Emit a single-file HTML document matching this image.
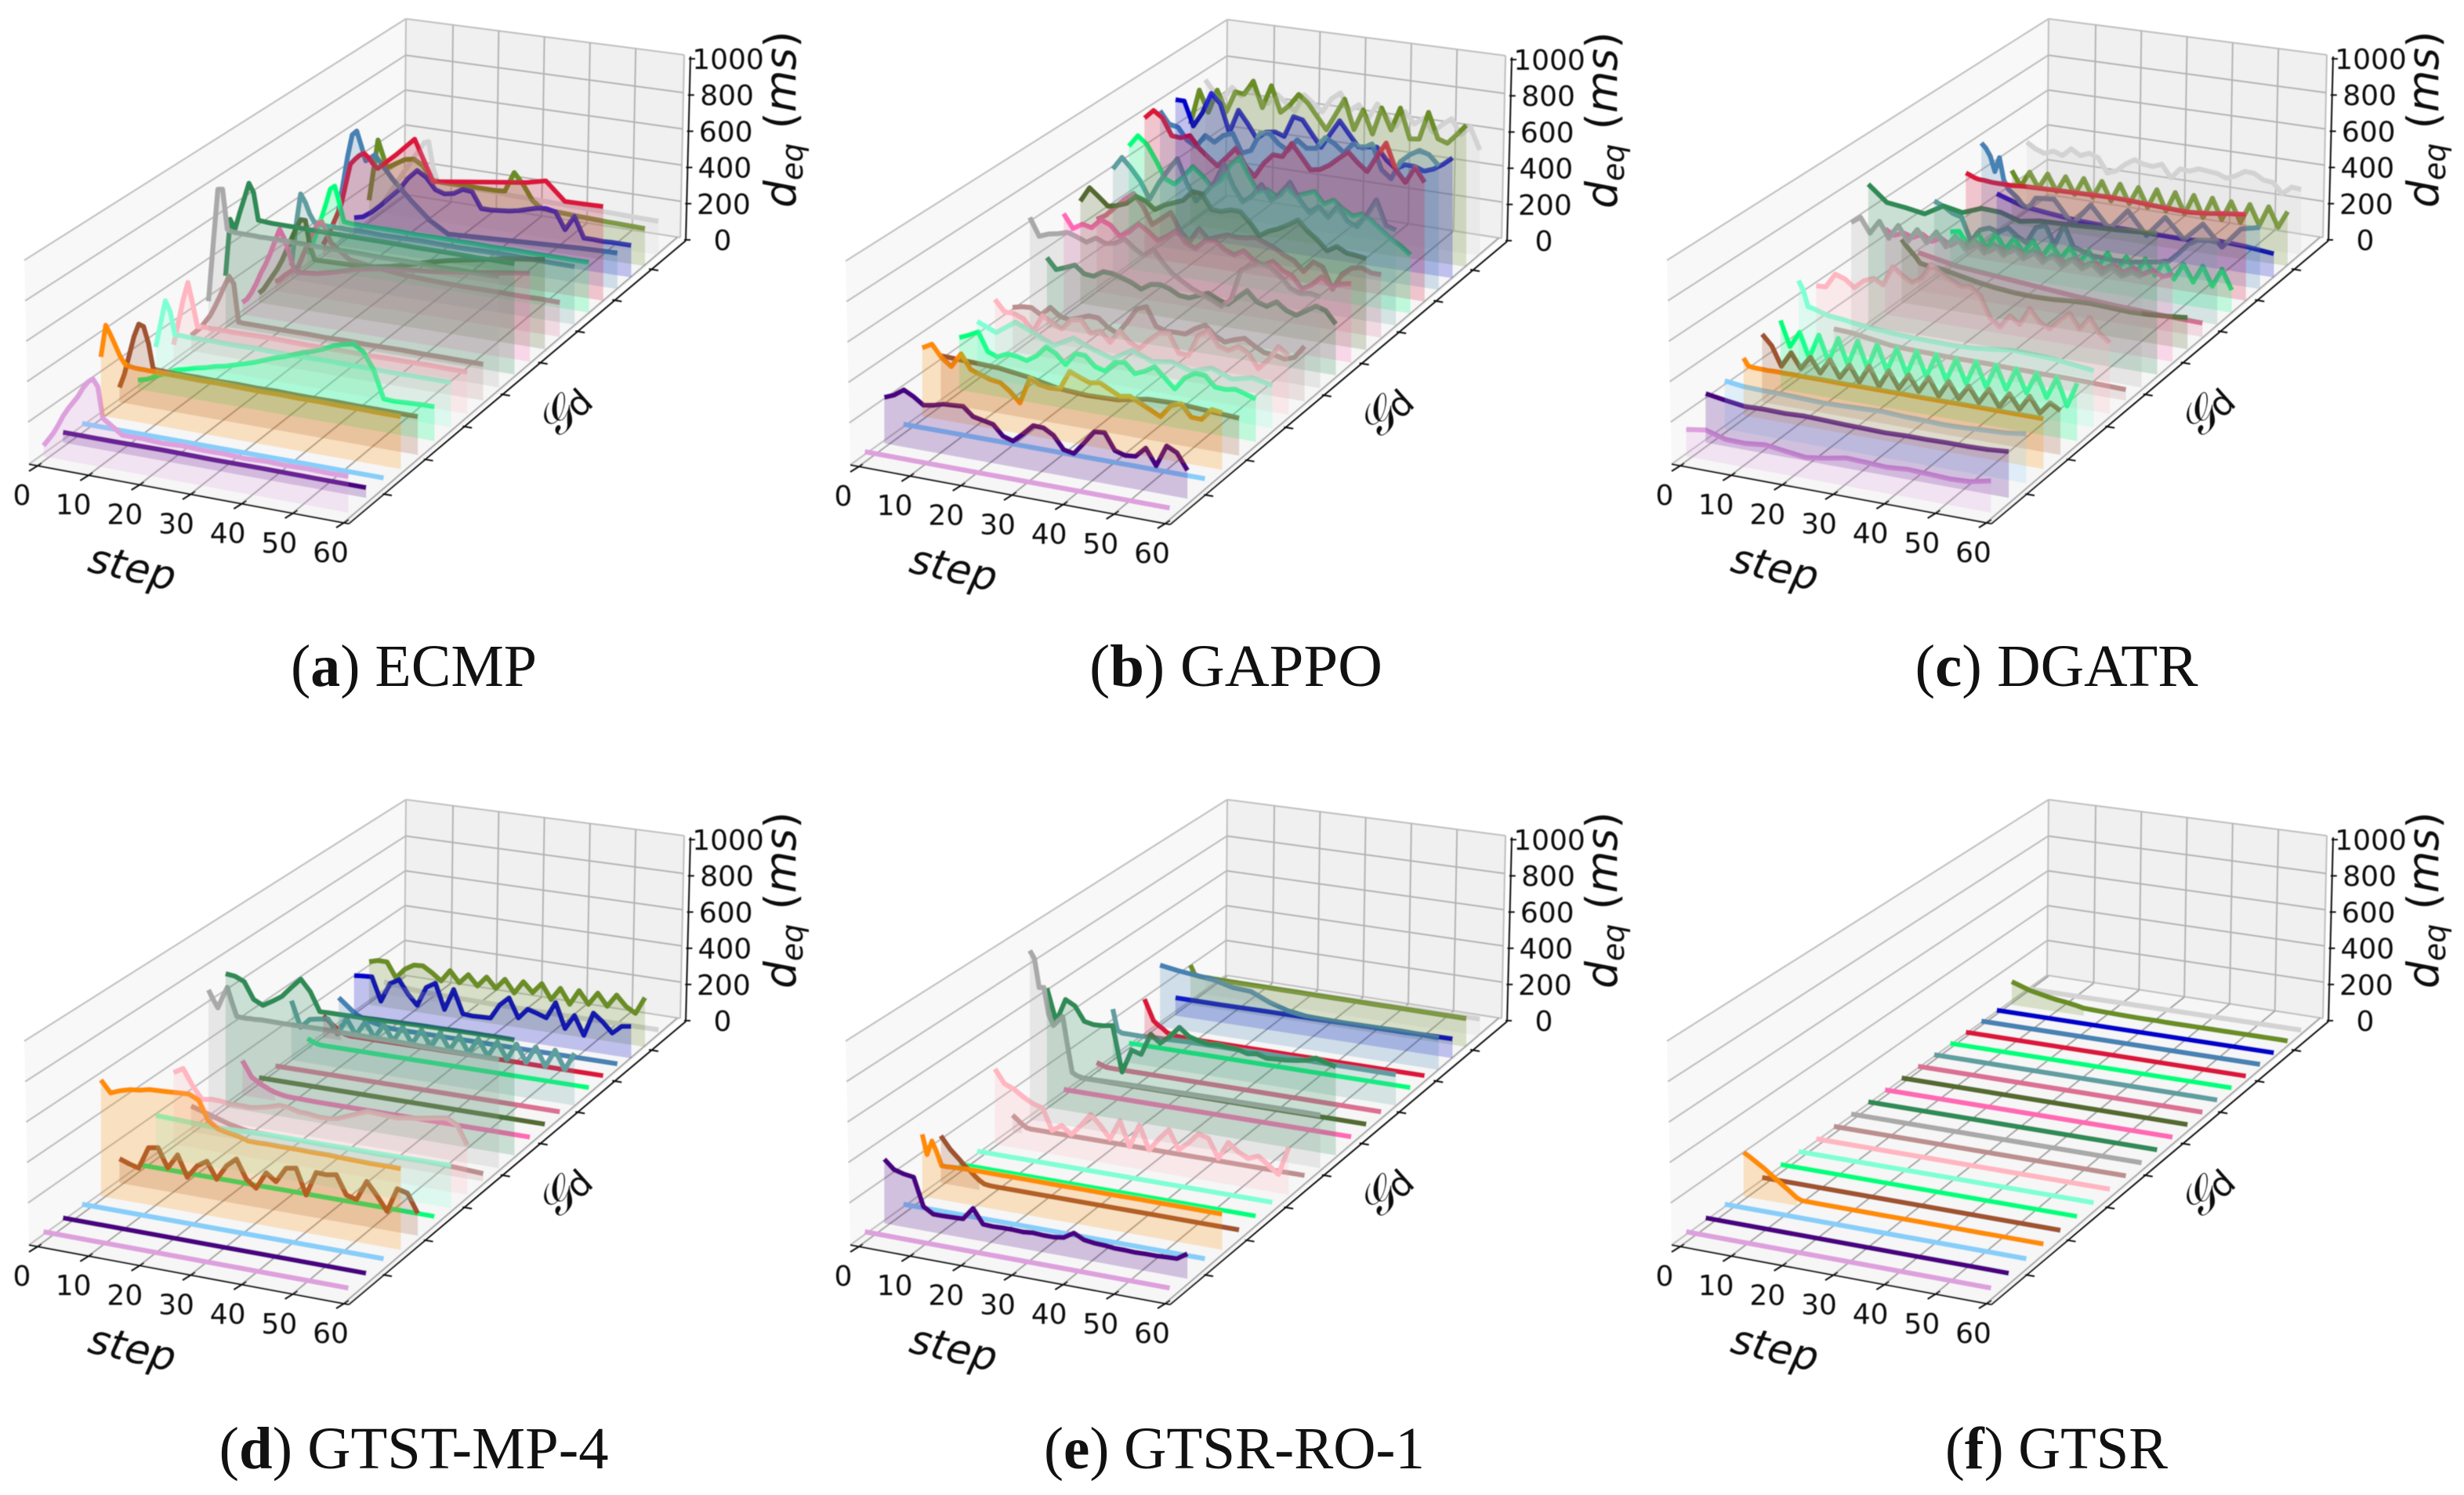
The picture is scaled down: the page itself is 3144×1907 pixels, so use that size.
<!DOCTYPE html>
<html lang="en">
<head>
<meta charset="utf-8">
<title>End-to-end delay per demand matrix for six routing methods</title>
<style>
html,body{margin:0;padding:0;background:#fff}
svg{display:block}
.cap{font-family:"Liberation Serif",serif;font-size:76px;fill:#111;text-anchor:middle}
.cap tspan{font-weight:bold}
</style>
</head>
<body>
<svg id="figure" xmlns="http://www.w3.org/2000/svg" width="3144" height="1907" viewBox="0 0 3144 1907">
<defs><filter id="soft" x="-2%" y="-2%" width="104%" height="104%"><feGaussianBlur stdDeviation="0.6"/></filter></defs>
<rect width="3144" height="1907" fill="#fff"/>
<g id="panels"></g>
<text class="cap" x="528" y="875" textLength="314" lengthAdjust="spacingAndGlyphs">(<tspan>a</tspan>) ECMP</text>
<text class="cap" x="1577" y="875" textLength="374" lengthAdjust="spacingAndGlyphs">(<tspan>b</tspan>) GAPPO</text>
<text class="cap" x="2624" y="875" textLength="361" lengthAdjust="spacingAndGlyphs">(<tspan>c</tspan>) DGATR</text>
<text class="cap" x="528" y="1873" textLength="497" lengthAdjust="spacingAndGlyphs">(<tspan>d</tspan>) GTST-MP-4</text>
<text class="cap" x="1575" y="1873" textLength="486" lengthAdjust="spacingAndGlyphs">(<tspan>e</tspan>) GTSR-RO-1</text>
<text class="cap" x="2624" y="1873" textLength="284" lengthAdjust="spacingAndGlyphs">(<tspan>f</tspan>) GTSR</text>
</svg>
<script>
// ---------- axis labels ----------
const stepTicks = [0,10,20,30,40,50,60];
const delayTicks = [0,200,400,600,800,1000];
const spikeSteps = [0,1,2,3,4,5,6,7,8,9,10,11,12,16,20,24,28,32,36,40,44,48,52,56,60];
const panelKeys = ['ecmp','gappo','dgatr','gtst-mp-4','gtsr-ro-1','gtsr'];
const demandColors = ['#dda0dd','#4b0082','#87cefa','#ff8c00','#a0522d','#00ff7f','#7fffd4','#ffb6c1','#bc8f8f','#a9a9a9','#2e8b57','#ff69b4','#556b2f','#db7093','#5f9ea0','#00ff7f','#dc143c','#4682b4','#0000cd','#6b8e23','#d3d3d3'];

// ---------- delay series (ms), one list per demand matrix, front to back ----------
// 25 values follow spikeSteps; any other length is evenly spaced across steps 0-60.
const ecmpDelays = [
[10,45,80,125,175,215,250,285,330,365,385,350,200,133,135,130,136,132,134,130,135,133,136,134,136],
[8,8,10,8,9,8,8],
[0,0],
[250,414,370,320,270,235,228,225,224,225,224,225,224,224,222,224,222,220,222,220,222,220,221,220,220],
[30,100,200,300,368,360,280,155,152,153,150,152,150,152,150,152,150,152,150,150,151,150,150,150,150],
[2,15,40,65,88,100,115,125,140,150,165,180,195,215,235,250,270,290,305,325,350,365,378,345,265,125,122,125,128,130,130],
[105,230,350,300,185,186,185,184,185,185,184,185,185,184,186,185,184,185,186,185,185,184,185,185,185],
[52,170,290,385,280,168,168,170,168,170,168,170,168,170,172,170,168,170,170,168,170,170,172,170,170],
[36,60,85,120,155,205,260,320,375,340,147,145,145,145,144,145,143,145,143,144,145,143,144,143,143],
[150,450,740,745,540,532,530,530,530,530,530,528,530,530,530,528,530,530,528,530,530,528,530,530,530],
[220,520,470,560,640,725,680,540,538,536,535,535,535,535,534,535,534,535,535,534,535,535,534,535,535],
[19,40,80,130,190,240,300,370,435,390,320,240,225,235,260,290,310,325,335,345,360,375,390,405,420],
[5,30,70,110,150,200,260,320,380,430,430,300,230,232,235,240,260,285,315,340,360,380,400,415,430],
[3,20,45,65,85,105,170,230,290,340,365,320,260,185,170,160,150,145,142,140,140,140,138,140,138],
[30,250,420,380,320,280,275,272,270,272,270,272,270,272,268,270,272,270,268,270,272,270,268,266,265],
[30,80,150,230,310,400,420,330,235,232,230,232,230,230,230,228,230,228,228,226,228,226,226,225,225],
[20,70,130,190,255,370,480,510,535,550,530,500,480,570,670,455,470,485,500,515,530,555,460,462,465],
[150,300,450,570,595,520,440,460,480,450,420,390,360,260,170,110,115,120,125,130,135,140,145,148,150],
[48,60,95,140,190,240,310,360,330,270,255,265,295,290,205,205,210,215,225,240,255,260,250,160,240,130,130,128,130,130,130],
[85,425,280,310,340,350,320,250,245,245,245,245,245,245,245,250,360,300,220,185,180,178,175,172,170,168,166,165,163,162,160],
[20,60,100,140,180,220,260,300,340,380,390,250,175,170,165,165,160,158,155,152,150,148,145,142,140]
];
const gappoDelays = [
[0,0],
[185,205,240,215,182,190,205,208,212,170,160,150,100,85,130,180,178,150,88,78,140,205,210,130,115,120,170,92,200,175,97],
[0,0],
[300,327,268,232,305,234,218,202,195,159,111,245,220,213,216,314,293,275,284,259,234,243,218,193,168,232,252,193,191,250,243],
[195,190,185,165,135,125,130,160,165,155,146],
[222,243,268,176,158,182,178,165,197,252,227,179,245,243,195,182,234,243,195,216,248,200,152,218,250,248,198,195,205,190,173],
[240,200,270,230,185,240,200,170,230,190,205,175,210,170,195,175],
[290,235,233,215,157,247,221,196,251,260,198,219,170,237,189,163,216,260,269,175,172,285,317,246,232,262,237,165,220,296,260],
[185,197,201,172,218,181,172,188,208,206,167,142,208,286,306,213,197,199,199,236,263,217,192,213,229,197,172,169,156,174,240],
[590,500,520,530,545,530,510,540,520,530,560,520,490,530,470,420,390,360,340,320,295,340,500,530,550,540,500,448,430,440,430],
[320,265,284,305,267,263,295,293,279,263,237,270,277,263,237,233,253,274,249,233,277,321,270,256,288,251,235,267,300,284,223],
[490,420,450,440,490,470,420,450,500,470,430,460,500,440,420,470,480,440,420,450,410,390,420,380,360,300,330,380,340,360,370],
[495,575,535,493,505,525,570,554,516,547,568,589,643,640,565,563,579,579,530,467,500,521,551,584,533,495,446,477,451,446,439],
[340,370,420,470,510,450,360,400,440,350,300,380,330,350,370,365,370,380,360,340,310,290,240,300,280,170,260,300,310,290,290],
[550,620,570,510,420,515,590,660,540,450,500,565,670,560,485,525,595,520,555,630,545,485,525,475,545,470,450,520,610,480,465],
[615,680,640,560,470,450,500,560,520,470,510,600,650,560,480,500,470,530,490,510,530,470,500,460,430,450,420,380,340,310,270],
[710,760,726,638,635,655,593,552,514,569,626,538,488,567,621,619,698,636,571,581,612,657,700,650,610,700,781,645,583,674,600],
[695,630,620,557,530,598,569,614,633,533,555,657,664,614,586,652,614,621,688,662,621,679,662,693,560,519,621,667,698,683,631],
[700,700,570,650,765,715,565,695,630,555,598,607,590,706,696,627,561,643,723,658,595,602,610,547,506,537,535,518,537,571,614],
[510,705,590,720,608,725,720,800,661,790,651,697,765,724,659,593,685,777,617,734,608,760,646,775,613,620,775,637,620,676,736],
[700,640,610,680,640,700,650,620,680,640,600,700,660,620,700,740,650,690,620,710,650,600,690,630,670,600,650,690,610,660,540]
];
const dgatrDelays = [
[90,105,77,75,86,73,61,75,95,91,86,95,91,86,91,114],
[200,185,172,175,173,178,175,172,170,168,172,172,175,175,178,187],
[197,185,182,182,178,175,178,182,186,180,178,175,178,185,190,204],
[245,209,206,205,205,204,205,206,205,205,206,205,205,206,205,206,206,207,206,207,208,208,208,209,209],
[300,250,155,232,161,227,155,232,150,222,145,234,141,229,148,225,150,230,145,228,150,222,148,225,145,220,150,225,150,210,180],
[306,180,262,140,265,140,265,140,270,140,270,145,268,145,270,150,270,150,265,150,270,150,270,155,270,155,265,150,260,125,250],
[445,400,320,315,308,300,294,290,288,286,283,278,275,265,258,253,252,250,255,265,278,275,270,258,246],
[355,358,432,416,379,423,444,418,520,484,456,488,567,530,505,479,486,449,342,305,372,335,426,365,340,393,437,365,433,358,321],
[70,65,50,35,30,28,25,25,25,22,22,20,20,18,15,12],
[560,595,520,590,510,585,510,580,520,585,515,580,520,575,515,570,520,575,520,570,520,565,515,560,520,555,510,550,515,545,530],
[700,620,609,593,651,633,672,667,637,656,660,665,672,677,684,693],
[405,380,400,385,410,380,405,375,410,380,410,375,410,385,415,380,415,385,410,385,415,385,410,385,415,385,415,390,420,395,415],
[290,260,235,210,180,175,172,170,168,165,160,155,150,130,115,105,100,102,110,113,108,102,105,112,122],
[160,120,100,80,60,45,35,28],
[375,355,325,312,191,259,277,263,294,256,230,319,340,242,357,247,233,216,214,210,212,216,223,233,240,253,302,358,391,398,395],
[150,160,90,170,90,180,100,170,100,175,95,170,100,170,95,165,90,170,90,165,85,170,90,175,85,175,85,180,80,180,75],
[410,400,390,385,385,382,380,380,380,380,380,382,385,388,392,395,398,400,398,392,388,385,395,410,422],
[515,490,450,370,450,330,285,265,245,215,200,220,260,270,150,270,155,270,150,265,160,260,150,265,290],
[180,132,115,100,95,92,90,88,108,100,84],
[250,170,255,175,260,170,260,170,265,170,265,165,265,165,262,160,265,155,265,155,265,150,265,155,262,155,262,155,265,160,255],
[350,320,302,322,305,350,320,340,322,245,265,310,342,325,320,340,272,330,325,345,340,335,317,337,370,367,337,332,277,322,317]
];
const gtstDelays = [
[0,0],
[0,0],
[0,0],
[557,500,520,534,540,552,555,558,562,565,543,448,415,405,398,382,382,384,383,384,384,383,383,384,382,381,380,379,380,381,380],
[95,78,65,176,185,91,166,62,128,160,78,155,198,105,68,155,119,196,205,78,201,199,208,114,100,201,139,68,191,178,84],
[0,0],
[185,180,175,180,185,185,185,185,187,188,190],
[340,370,290,228,237,235,228,230,228,237,249,265,262,249,247,240,240,249,270,290,311,309,306,304,313,320,330,339,348,320,226],
[105,76,45,25,24,23,23,22,23,22,22,23,24,23,18,12],
[645,600,560,620,675,600,532,530,530,532,532,535,535,535,538,540,540,540,540,540,538,538,538,536,536],
[670,665,645,560,537,567,600,655,707,650,553,555,556,557,558,560,562,563,565,566,568,569,570,571,572,573,574,574,575,575,575],
[154,115,75,60,45,35,23,15,10,5,3,2,2,0,0,0,0,0,0,0,0,0,0,0,0],
[2,2],
[2,2],
[290,155,205,215,222,150,240,160,240,160,240,160,245,160,245,160,245,160,245,160,245,160,245,160,250,160,250,155,250,155,250],
[27,15,6,2,2,2,2,2,2,2,2,2,2,2,2,2,2,2,2,2,2,2,2,2,2],
[90,70,50,30,15,6,2,2,2,2,2,2,2,2,2,2,2,2,2,2,2,2,2,2,2],
[128,108,88,68,50,40,32,25,19,14,10,6,3,3,3,3,3,3,3,3,3,3,3,3,3],
[190,195,198,72,176,205,133,80,186,217,80,198,72,68,70,72,152,198,96,152,137,120,212,77,157,55,186,145,92,137,145],
[208,222,222,142,197,227,230,200,162,227,167,220,165,222,167,225,157,227,175,232,152,222,142,225,157,227,162,232,177,147,242],
[38,35,30,28,25,22,20,18,16,15,14,13,12,10,8,6,5,4,3,3,2,2,2,2,2]
];
const gtsrRoDelays = [
[0,0],
[292,249,236,229,92,63,63,65,67,128,58,56,58,58,56,61,58,58,65,97,72,65,63,58,58,56,58,58,61,63,97],
[0,0],
[284,186,259,207,143,143,145,146,147,148,148,149,149,149,150,150,150,151,151,151,152,152,152,152,152],
[211,180,150,127,105,80,62,40,20,6,3,2,2,2,2,2,2,2,2,2,2,2,2,2,2],
[2,2],
[2,2],
[360,292,272,240,214,200,94,127,90,145,210,161,101,203,78,198,78,145,200,106,150,205,191,97,187,147,122,143,106,67,214],
[58,40,20,5,2,2,2,2,2,2,2,2,2,2,2,2,2,2,2,2,2,2,2,2,2],
[850,810,665,670,535,480,507,535,388,253,240,235,232,236,238,240,240,242,243,245,245,246,247,248,248],
[595,428,551,526,453,444,447,456,221,344,330,444,405,449,505,465,451,442,447,442,440,426,433,419,423,426,433,442,463,447,433],
[2,2],
[2,2],
[20,12,3,2,2,2,2,2,2,2,2,2,2,2,2,2,2,2,2,2,2,2,2,2,2],
[245,135,124,124,124,124,124,125,126,127,128,128,129,133,133,134,134,135,134,135,135,135,135,135,135],
[2,2],
[180,125,70,50,35,17,10,6,4,3,3,2,2,2,2,2,2,2,2,2,2,2,2,2,2],
[305,290,280,270,245,238,195,165,150,148,146,147,148,150,148,144],
[68,68,70,70,72,73,76],
[190,140,135,134,134,133,133,132,132,131,131,130,130,130,129,129,128,128,128,127,127,127,126,126,126],
[62,62]
];
const gtsrDelays = [
[0,0],[0,0],[0,0],
[193,180,165,150,135,118,100,82,65,48,30,12,3,2,2,2,2,2,2,2,2,2,2,2,2],
[0,0],[0,0],[0,0],[0,0],[0,0],[0,0],[0,0],[0,0],[0,0],[0,0],[0,0],[0,0],[0,0],[0,0],[0,0],
[98,82,65,55,45,36,30,22,12,10,8,7,6,5,4,4,4,3,3,3,3,3,3,3,3,3,3,3,3,3,2],
[0,0]
];
const panelDelays = [ecmpDelays,gappoDelays,dgatrDelays,gtstDelays,gtsrRoDelays,gtsrDelays];
// zero-level calibration of the readings taken from the upper row
const readingOffsetMs = [16,16,16,0,0,0];

// ---------- layout ----------
const originX = [0,1048,2096,0,1048,2096];
const originY = [0,1,0,996,996,996];
const ZX = 1.496, ZY = 1.742;
const NS = 'http://www.w3.org/2000/svg';

// floor plane: step 0-60, demand 0-20, homography from four corners
const q = [[83,995],[665,1120],[1257,547],[733,455]];
const h = (function(){
  const dx1=q[1][0]-q[2][0], dx2=q[3][0]-q[2][0], sx=q[0][0]-q[1][0]+q[2][0]-q[3][0];
  const dy1=q[1][1]-q[2][1], dy2=q[3][1]-q[2][1], sy=q[0][1]-q[1][1]+q[2][1]-q[3][1];
  const den=dx1*dy2-dx2*dy1;
  const g=(sx*dy2-dx2*sy)/den, k=(dx1*sy-sx*dy1)/den;
  return {a:q[1][0]-q[0][0]+g*q[1][0], b:q[3][0]-q[0][0]+k*q[3][0], c:q[0][0],
          d:q[1][1]-q[0][1]+g*q[1][1], e:q[3][1]-q[0][1]+k*q[3][1], f:q[0][1], g:g, k:k};
})();
function floorPoint(step, demand){
  const u=step/60, v=demand/20, w=h.g*u+h.k*v+1;
  return [(h.a*u+h.b*v+h.c)/w/ZX, ((h.d*u+h.e*v+h.f)/w+7)/ZY];
}
function delayPx(demand){ return (0.45-0.05*demand/20)/ZY; }
function plot(step, demand, ms){
  const p=floorPoint(step,demand);
  return [p[0], p[1]-ms*delayPx(demand)];
}
function stepsFor(values){
  if(values.length===spikeSteps.length) return spikeSteps;
  return values.map(function(_,i){ return i*60/(values.length-1); });
}
function lerp(a,b,t){ return a+(b-a)*t; }
function pts(list){ return list.map(function(p){ return p[0].toFixed(1)+','+p[1].toFixed(1); }).join(' '); }
function make(tag, attrs, parent){
  const el=document.createElementNS(NS,tag);
  for(const key in attrs){ el.setAttribute(key, attrs[key]); }
  parent.appendChild(el);
  return el;
}
const GRID='#b4b4b4';
const root=document.getElementById('panels');

panelDelays.forEach(function(delays, pi){
  const panel=make('g',{transform:'translate('+originX[pi]+','+originY[pi]+')',filter:'url(#soft)'},root);
  
  

  // panes
  const leftPane=make('polygon',{points:'31,332 518,24 516,248 37,592',fill:'#f8f8f8'},panel);
  
  
  const backPane=make('polygon',{points:'518,24 873,70 868,303 516,248',fill:'#f0f0f0'},panel);
  
  
  const floorPane=make('polygon',{points:'37,592 445,668 868,303 516,248',fill:'#f6f6f6'},panel);
  
  

  // grid
  const grid=make('g',{stroke:GRID,'stroke-width':2.1,fill:'none'},panel);
  
  
  [[31,332,518,24],[518,24,873,70],[518,24,516,248],[873,70,868,303],[516,248,37,592],[516,248,868,303],[37,592,445,668]].forEach(function(e){
    make('line',{x1:e[0],y1:e[1],x2:e[2],y2:e[3],stroke:'#c0c0c0'},grid);
  });
  delayTicks.forEach(function(tick){
    const t=tick/1000;
    if(t===0||t===1) return;
    const yb=lerp(248,24+2,t), yr=lerp(303,72,t), yf=lerp(590,332,t);
    make('line',{x1:lerp(516,518,t),y1:yb,x2:lerp(868,873,t),y2:yr},grid);
    make('line',{x1:lerp(37,31,t),y1:yf,x2:lerp(516,518,t),y2:yb,stroke:'#bcbcbc'},grid);
  });
  stepTicks.forEach(function(tick){
    const t=tick/60*0.985+0.005;
    const bx=lerp(516,868,t), by=lerp(249,303,t), tx=lerp(518,873,t), ty=lerp(24,70,t);
    if(tick>0&&tick<60) make('line',{x1:bx,y1:by,x2:tx,y2:ty},grid);
    const fx=lerp(45,437,tick/60), fy=lerp(596,668,tick/60);
    make('line',{x1:fx,y1:fy,x2:bx,y2:by,stroke:'#a6a6a6'},grid);
  });

  // series: all lines first (back to front), then all translucent areas over them
  const lineLayer=make('g',{},panel);
  
  
  const areaLayer=make('g',{},panel);
  
  
  for(let g=delays.length-1; g>=0; g--){
    const values=delays[g], steps=stepsFor(values), off=readingOffsetMs[pi];
    const shown=values.map(function(v){ return v>0 ? v+off : v; });
    const line=steps.map(function(s,i){ return plot(s,g,shown[i]); });
    let run=[];
    const flush=function(){
      if(run.length>1){
        const top=run.map(function(i){ return line[i]; });
        const bottom=run.slice().reverse().map(function(i){ const p=floorPoint(steps[i],g); return [p[0],p[1]+7]; });
        const area=make('polygon',{points:pts(top.concat(bottom)),fill:demandColors[g],'fill-opacity':0.22,stroke:'none'},areaLayer);
        
        
      }
      run=[];
    };
    shown.forEach(function(v,i){ if(v>10){ run.push(i); } else { flush(); } });
    flush();
    const path=make('polyline',{points:pts(line),fill:'none',stroke:demandColors[g],'stroke-width':6.4,'stroke-linejoin':'round','stroke-linecap':'butt'},lineLayer);
    
    
  }

  // axes
  const axes=make('g',{stroke:'#111','stroke-width':2,fill:'none'},panel);
  
  
  make('line',{x1:37,y1:592,x2:445,y2:668},axes);
  make('line',{x1:445,y1:668,x2:875,y2:307},axes);
  make('line',{x1:875,y1:307,x2:881,y2:72},axes);
  stepTicks.forEach(function(tick){
    const x=lerp(45,437,tick/60), y=lerp(596,668,tick/60);
    make('line',{x1:x-8,y1:y+5,x2:x+8,y2:y-5},axes);
  });
  for(let i=0;i<8;i++){
    const t=Math.pow(i/7,0.96), x=lerp(493,833,t), y=lerp(631,344,t);
    make('line',{x1:x-5,y1:y-1,x2:x+7,y2:y+1},axes);
  }
  const tickText={'font-family':'"DejaVu Sans",sans-serif','font-size':36,fill:'#111','text-anchor':'middle'};
  delayTicks.forEach(function(tick){
    const t=tick/1000, x=lerp(875,881,t), y=lerp(306,75,t);
    make('line',{x1:x-2,y1:y,x2:x+6,y2:y},axes);
    const label=make('text',Object.assign({x:lerp(922,929,t),y:y+13},tickText),panel);
    label.textContent=String(tick);
    
    
  });
  stepTicks.forEach(function(tick){
    const t=tick/60;
    const label=make('text',Object.assign({x:lerp(28,422,t),y:lerp(631,704,t)+13},tickText),panel);
    label.textContent=String(tick);
    
    
  });

  // axis titles
  const stepTitle=make('text',{transform:'translate(165,741) rotate(13)','font-family':'"DejaVu Sans",sans-serif','font-style':'italic','font-size':52,fill:'#111','text-anchor':'middle'},panel);
  stepTitle.textContent='step';
  
  

  const delayTitle=make('text',{transform:'translate(1015,265) rotate(-90)','font-family':'"DejaVu Sans",sans-serif','font-size':55,fill:'#111'},panel);
  
  
  const d=make('tspan',{'font-style':'italic'},delayTitle); d.textContent='d';
  const sub=make('tspan',{'font-style':'italic','font-size':38,dy:9},delayTitle); sub.textContent='eq';
  const unitOpen=make('tspan',{dy:-9,dx:18},delayTitle); unitOpen.textContent='(';
  const unit=make('tspan',{'font-style':'italic'},delayTitle); unit.textContent='ms';
  const unitClose=make('tspan',{},delayTitle); unitClose.textContent=')';

  const demandTitle=make('text',{transform:'translate(733,540) rotate(-42)','font-family':'"DejaVu Sans","DejaVu Math TeX Gyre","Liberation Serif",serif','font-size':52,fill:'#111','text-anchor':'middle'},panel);
  
  
  const script=make('tspan',{'font-family':'"Liberation Serif",serif','font-style':'italic','font-size':60},demandTitle); script.textContent='\u{1D4A2}';
  const scriptSub=make('tspan',{'font-size':44},demandTitle); scriptSub.textContent='d';
});
</script>
</body>
</html>
